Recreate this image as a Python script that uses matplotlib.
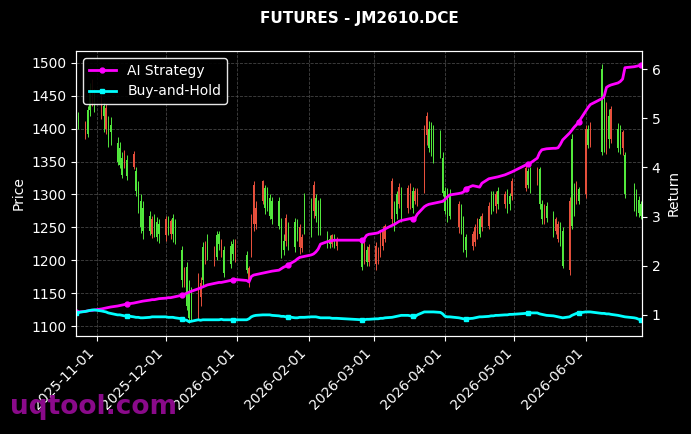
import numpy as np
import pandas as pd
import matplotlib
matplotlib.use('Agg')
import matplotlib.pyplot as plt
import matplotlib.dates as mdates

title = 'FUTURES - JM2610.DCE'
start_day = '2025-10-23'
end_day = '2026-06-25'
# exchange closed (holidays) + days missing in the feed
closed_days = ['2026-01-01', '2026-01-02',
               '2026-02-16', '2026-02-17', '2026-02-18', '2026-02-19', '2026-02-20', '2026-02-23',
               '2026-04-06', '2026-05-01', '2026-05-04', '2026-05-05',
               '2026-06-04', '2026-06-05', '2026-06-19']

# daily OHLC, one row per month
opens = [1395, 1410, 1408, 1392, 1428, 1455, 1440,
         1448, 1420, 1432, 1385, 1395, 1350, 1345, 1330, 1362, 1328, 1362, 1305, 1280, 1250, 1245, 1245, 1262, 1242, 1235, 1240,
         1262, 1240, 1260, 1240, 1235, 1170, 1185, 1130, 1112, 1120, 1170, 1165, 1170, 1225, 1205, 1210, 1205, 1225, 1230, 1180, 1195, 1210, 1228,
         1185, 1188, 1265, 1315, 1280, 1320, 1280, 1280, 1268, 1262, 1252, 1210, 1215, 1265, 1230, 1220, 1240, 1250, 1235, 1245,
         1240, 1315, 1268, 1250, 1245, 1222, 1225, 1238, 1222, 1232, 1190, 1225, 1198, 1220,
         1222, 1215, 1240, 1248, 1252, 1320, 1255, 1270, 1312, 1265, 1310, 1312, 1280, 1305, 1302, 1395, 1420, 1370, 1365, 1355, 1362, 1302,
         1275, 1265, 1268, 1285, 1250, 1220, 1215, 1240, 1250, 1262, 1240, 1268, 1282, 1275, 1280, 1300, 1285, 1300, 1278, 1285, 1320,
         1340, 1315, 1310, 1338, 1285, 1262, 1280, 1265, 1242, 1262, 1255, 1232, 1192, 1290, 1252, 1272, 1315, 1290,
         1400, 1375, 1405, 1365, 1380, 1432, 1385, 1430, 1370, 1375, 1395, 1300, 1280, 1275, 1272, 1268]
highs = [1420, 1425, 1412, 1434, 1470, 1475, 1460,
         1452, 1440, 1438, 1420, 1418, 1388, 1380, 1365, 1368, 1360, 1366, 1342, 1320, 1300, 1290, 1275, 1268, 1270, 1266, 1262,
         1268, 1268, 1262, 1270, 1262, 1222, 1190, 1198, 1170, 1160, 1180, 1175, 1228, 1230, 1240, 1222, 1245, 1245, 1232, 1222, 1230, 1232, 1232,
         1214, 1192, 1270, 1320, 1290, 1322, 1315, 1312, 1300, 1296, 1296, 1264, 1240, 1270, 1258, 1264, 1262, 1255, 1240, 1303,
         1295, 1320, 1300, 1292, 1295, 1245, 1238, 1240, 1240, 1236, 1232, 1228, 1222, 1225,
         1228, 1220, 1245, 1252, 1255, 1325, 1290, 1305, 1318, 1312, 1315, 1318, 1312, 1310, 1310, 1405, 1426, 1412, 1410, 1405, 1398, 1365,
         1312, 1310, 1308, 1290, 1285, 1268, 1240, 1245, 1255, 1265, 1268, 1272, 1288, 1305, 1305, 1306, 1312, 1305, 1308, 1302, 1325,
         1345, 1340, 1342, 1342, 1342, 1292, 1285, 1288, 1275, 1266, 1260, 1258, 1250, 1296, 1392, 1318, 1320, 1312,
         1406, 1405, 1410, 1498, 1455, 1440, 1430, 1435, 1408, 1405, 1398, 1365, 1318, 1308, 1298, 1290]
lows = [1388, 1400, 1384, 1388, 1420, 1435, 1425,
        1415, 1395, 1392, 1372, 1375, 1345, 1340, 1325, 1340, 1322, 1338, 1298, 1272, 1242, 1232, 1238, 1234, 1236, 1230, 1226,
        1230, 1238, 1232, 1228, 1225, 1160, 1160, 1125, 1105, 1108, 1110, 1130, 1160, 1195, 1200, 1192, 1200, 1215, 1205, 1175, 1188, 1200, 1198,
        1180, 1160, 1205, 1245, 1248, 1285, 1270, 1275, 1262, 1255, 1248, 1203, 1208, 1222, 1215, 1212, 1230, 1210, 1212, 1240,
        1236, 1265, 1258, 1238, 1238, 1218, 1218, 1220, 1218, 1216, 1185, 1195, 1192, 1192,
        1185, 1195, 1205, 1215, 1228, 1255, 1245, 1262, 1280, 1258, 1272, 1278, 1272, 1285, 1282, 1302, 1375, 1365, 1358, 1348, 1355, 1298,
        1270, 1258, 1262, 1242, 1240, 1212, 1205, 1215, 1222, 1232, 1235, 1245, 1248, 1270, 1275, 1272, 1278, 1280, 1272, 1276, 1292,
        1305, 1310, 1302, 1315, 1278, 1255, 1255, 1258, 1236, 1240, 1228, 1222, 1188, 1178, 1248, 1268, 1285, 1285,
        1295, 1370, 1372, 1360, 1365, 1362, 1370, 1378, 1365, 1362, 1360, 1295, 1275, 1268, 1266, 1262]
closes = [1415, 1420, 1390, 1428, 1455, 1445, 1452,
          1425, 1435, 1400, 1412, 1405, 1378, 1370, 1355, 1345, 1352, 1342, 1335, 1312, 1290, 1280, 1268, 1240, 1262, 1258, 1255,
          1238, 1262, 1240, 1265, 1258, 1215, 1165, 1190, 1150, 1140, 1118, 1145, 1220, 1200, 1222, 1200, 1238, 1240, 1215, 1215, 1222, 1225, 1205,
          1208, 1170, 1215, 1255, 1255, 1290, 1310, 1305, 1295, 1290, 1290, 1255, 1230, 1230, 1250, 1258, 1255, 1220, 1218, 1295,
          1285, 1275, 1295, 1280, 1285, 1240, 1232, 1225, 1235, 1222, 1228, 1205, 1215, 1198,
          1195, 1200, 1210, 1222, 1232, 1262, 1280, 1300, 1285, 1305, 1280, 1285, 1305, 1290, 1288, 1310, 1390, 1400, 1405, 1395, 1392, 1355,
          1305, 1300, 1298, 1250, 1280, 1262, 1235, 1222, 1228, 1238, 1262, 1250, 1252, 1300, 1298, 1282, 1305, 1285, 1302, 1298, 1298,
          1310, 1335, 1338, 1320, 1338, 1285, 1262, 1282, 1270, 1245, 1232, 1252, 1245, 1185, 1385, 1310, 1290, 1308,
          1300, 1400, 1375, 1490, 1440, 1380, 1420, 1385, 1400, 1395, 1370, 1360, 1310, 1300, 1292, 1285]

ai_return = [1.06, 1.06, 1.07, 1.08, 1.09, 1.09, 1.10,
             1.12, 1.13, 1.14, 1.15, 1.16, 1.18, 1.19, 1.20, 1.21, 1.22, 1.24, 1.25, 1.26, 1.27, 1.28, 1.30, 1.31, 1.31, 1.32, 1.33,
             1.34, 1.35, 1.35, 1.36, 1.37, 1.40, 1.42, 1.44, 1.46, 1.48, 1.53, 1.55, 1.57, 1.59, 1.61, 1.64, 1.65, 1.66, 1.66, 1.67, 1.70, 1.71, 1.72,
             1.70, 1.67, 1.78, 1.81, 1.82, 1.85, 1.86, 1.87, 1.88, 1.89, 1.91, 1.94, 1.97, 1.99, 2.02, 2.10, 2.14, 2.17, 2.18, 2.19,
             2.22, 2.24, 2.28, 2.34, 2.44, 2.49, 2.50, 2.51, 2.52, 2.52, 2.52, 2.55, 2.62, 2.64,
             2.66, 2.67, 2.70, 2.72, 2.75, 2.82, 2.84, 2.87, 2.90, 2.92, 2.95, 2.96, 2.96, 2.97, 3.05, 3.20, 3.23, 3.25, 3.26, 3.27, 3.30, 3.31,
             3.35, 3.40, 3.44, 3.47, 3.48, 3.50, 3.57, 3.63, 3.62, 3.61, 3.60, 3.68, 3.77, 3.78, 3.79, 3.80, 3.81, 3.85, 3.87, 3.89, 3.91,
             4.05, 4.07, 4.09, 4.19, 4.30, 4.36, 4.37, 4.38, 4.39, 4.39, 4.40, 4.47, 4.56, 4.70, 4.76, 4.82, 4.87, 4.93,
             5.15, 5.22, 5.28, 5.40, 5.45, 5.63, 5.66, 5.68, 5.72, 5.75, 5.80, 6.03, 6.05, 6.06, 6.07, 6.08]
bh_return = [1.04, 1.05, 1.07, 1.08, 1.09, 1.10, 1.10,
             1.08, 1.07, 1.06, 1.04, 1.03, 1.00, 1.00, 0.99, 0.98, 0.98, 0.96, 0.95, 0.95, 0.94, 0.94, 0.95, 0.96, 0.96, 0.96, 0.96,
             0.96, 0.95, 0.95, 0.95, 0.94, 0.92, 0.90, 0.89, 0.86, 0.87, 0.90, 0.89, 0.90, 0.90, 0.90, 0.90, 0.90, 0.90, 0.91, 0.90, 0.90, 0.90, 0.90,
             0.90, 0.92, 0.96, 0.98, 0.99, 1.00, 1.00, 1.00, 1.00, 0.99, 0.98, 0.97, 0.97, 0.96, 0.96, 0.94, 0.94, 0.95, 0.95, 0.95,
             0.96, 0.96, 0.96, 0.95, 0.94, 0.94, 0.94, 0.93, 0.93, 0.93, 0.90, 0.90, 0.91, 0.91,
             0.92, 0.92, 0.93, 0.93, 0.94, 0.95, 0.96, 0.97, 0.98, 0.99, 0.99, 0.98, 0.97, 0.96, 1.00, 1.06, 1.06, 1.06, 1.06, 1.06, 1.05, 1.02,
             0.97, 0.96, 0.96, 0.94, 0.93, 0.92, 0.92, 0.93, 0.94, 0.95, 0.96, 0.96, 0.97, 0.98, 0.98, 0.99, 0.99, 1.00, 1.00, 1.01, 1.01,
             1.03, 1.03, 1.04, 1.04, 1.02, 1.01, 1.00, 0.99, 0.98, 0.97, 0.96, 0.95, 0.94, 0.96, 0.99, 1.01, 1.03, 1.04,
             1.06, 1.06, 1.06, 1.03, 1.03, 1.02, 1.02, 1.01, 0.99, 0.98, 0.97, 0.96, 0.94, 0.93, 0.91, 0.90]

up_color = '#52e83c'
down_color = '#e8503c'


def trading_days():
    days = pd.bdate_range(start_day, end_day)
    return days[~days.isin(pd.to_datetime(closed_days))]


def draw():
    dates = trading_days()
    assert len(dates) == len(closes) == len(ai_return) == len(bh_return)
    x = mdates.date2num(dates.to_pydatetime())
    o = np.array(opens)
    c = np.array(closes)
    colors = np.where(c >= o, up_color, down_color)

    fig = plt.figure(figsize=(6.91, 4.34), dpi=100, facecolor='black')
    ax = fig.add_axes([76 / 691, 1 - 336 / 434, 566 / 691, 285 / 434])
    ax.set_facecolor('black')

    ax.vlines(x, lows, highs, colors=colors, linewidth=0.7, zorder=2)
    ax.bar(x, np.abs(c - o), bottom=np.minimum(o, c), width=0.55, color=colors, zorder=2)
    ax.set_ylim(1085, 1518)
    ax.set_xlim(x[0], x[-1] + 0.4)
    ax.set_ylabel('Price', color='white')
    ax.grid(True, color='#555555', linestyle='--', linewidth=0.6, alpha=0.8)
    ax.set_axisbelow(True)

    ax.xaxis.set_major_locator(mdates.MonthLocator())
    ax.xaxis.set_major_formatter(mdates.DateFormatter('%Y-%m-%d'))
    plt.setp(ax.get_xticklabels(), rotation=45, ha='right')

    ax2 = ax.twinx()
    ax2.plot(x, ai_return, color='#ff00ff', linewidth=2, marker='o', markersize=3.5,
             markevery=16, label='AI Strategy')
    ax2.plot(x, bh_return, color='#00ffff', linewidth=2, marker='s', markersize=3.5,
             markevery=16, label='Buy-and-Hold')
    ax2.set_ylim(0.57, 6.37)
    ax2.set_ylabel('Return', color='white')

    for a in (ax, ax2):
        a.tick_params(colors='white', labelsize=10)
        for sp in a.spines.values():
            sp.set_color('white')

    ax2.legend(loc='upper left', facecolor='black', edgecolor='white',
               labelcolor='white', fontsize=10, framealpha=0.9)

    fig.suptitle(title, color='white', fontweight='bold', fontsize=11, x=359 / 691, y=0.975)
    fig.text(10 / 691, 0.045, 'uqtool.com', color='#8a0a8a', fontsize=19,
             fontweight='bold', zorder=0)

    fig.savefig('out.png', dpi=100, facecolor='black')


def main():
    draw()


if __name__ == "__main__":
    main()
